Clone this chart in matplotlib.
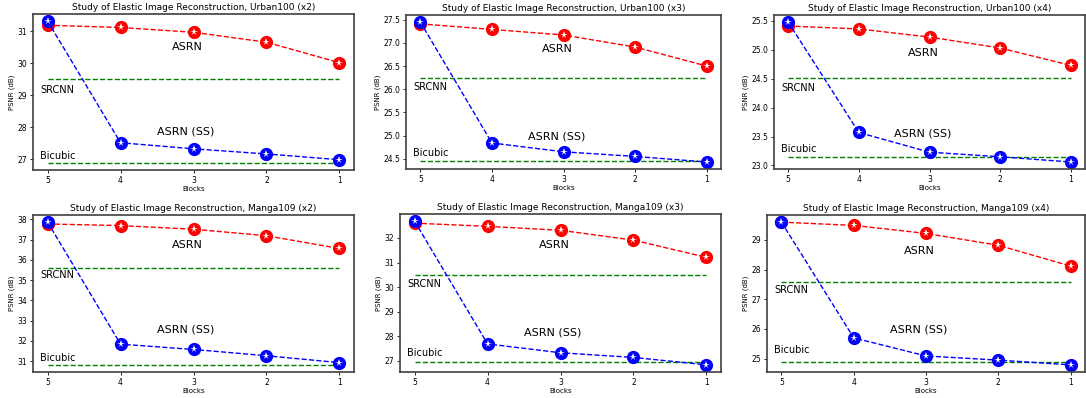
import matplotlib
matplotlib.use("Agg")
import matplotlib.pyplot as plt

blocks = [5, 4, 3, 2, 1]

titles = [
    "Study of Elastic Image Reconstruction, Urban100 (x2)",
    "Study of Elastic Image Reconstruction, Urban100 (x3)",
    "Study of Elastic Image Reconstruction, Urban100 (x4)",
    "Study of Elastic Image Reconstruction, Manga109 (x2)",
    "Study of Elastic Image Reconstruction, Manga109 (x3)",
    "Study of Elastic Image Reconstruction, Manga109 (x4)",
]

asrn = [
    [31.19, 31.12, 30.97, 30.66, 30.02],
    [27.41, 27.29, 27.17, 26.91, 26.50],
    [25.41, 25.36, 25.22, 25.03, 24.73],
    [37.77, 37.69, 37.51, 37.19, 36.56],
    [32.60, 32.47, 32.31, 31.91, 31.21],
    [29.60, 29.49, 29.22, 28.82, 28.12],
]

asrn_ss = [
    [31.32, 27.52, 27.33, 27.17, 26.99],
    [27.45, 24.84, 24.65, 24.55, 24.43],
    [25.48, 23.57, 23.23, 23.15, 23.06],
    [37.86, 31.84, 31.58, 31.27, 30.93],
    [32.68, 27.69, 27.33, 27.14, 26.84],
    [29.60, 25.70, 25.09, 24.95, 24.79],
]

srcnn = [29.50, 26.24, 24.52, 35.60, 30.48, 27.58]
bicubic = [26.89, 24.46, 23.14, 30.82, 26.96, 24.89]

# label y positions (baseline) per panel: ASRN, ASRN (SS), SRCNN, Bicubic
label_y = [
    [30.42, 27.79, 29.08, 27.02],
    [26.80, 24.91, 25.99, 24.56],
    [24.90, 23.50, 24.29, 23.24],
    [36.60, 32.40, 35.10, 31.00],
    [31.59, 28.02, 30.00, 27.18],
    [28.52, 25.89, 27.22, 25.19],
]

# axes boxes in pixels: left, right, top, bottom
W, H = 1086, 398
boxes = [
    (33, 354, 14, 170),
    (406, 721, 15, 169),
    (774, 1085, 15, 169),
    (33, 354, 215, 372),
    (400, 721, 214, 372),
    (767, 1085, 215, 372),
]

fig = plt.figure(figsize=(W / 100, H / 100), dpi=100)

for i in range(6):
    l, r, t, b = boxes[i]
    ax = fig.add_axes([l / W, 1 - b / H, (r - l) / W, (b - t) / H])

    ax.plot(blocks, [srcnn[i]] * 5, 'g--', lw=1.0)
    ax.plot(blocks, [bicubic[i]] * 5, 'g--', lw=1.0)
    for vals, c in ((asrn[i], 'red'), (asrn_ss[i], 'blue')):
        ax.plot(blocks, vals, '--', color=c, lw=1.0, marker='o', ms=9.5,
                mew=0, mfc=c)
        ax.plot(blocks, vals, ls='none', marker='*', ms=5.5, mew=0, mfc='white')

    ax.text(3.3, label_y[i][0], "ASRN", fontsize=8)
    ax.text(3.5, label_y[i][1], "ASRN (SS)", fontsize=8)
    ax.text(5.1, label_y[i][2], "SRCNN", fontsize=7)
    ax.text(5.1, label_y[i][3], "Bicubic", fontsize=7)

    ax.set_xlim(5.2, 0.8)
    ax.set_xticks(blocks)
    ax.set_title(titles[i], fontsize=6.5, pad=3)
    ax.set_xlabel("Blocks", fontsize=5, labelpad=1)
    ax.set_ylabel("PSNR (dB)", fontsize=5, labelpad=2)
    ax.tick_params(labelsize=5.5, length=2.5, width=0.6, pad=1.5)
    for s in ax.spines.values():
        s.set_color('0.25')
        s.set_linewidth(1.2)

plt.savefig("out.png", dpi=100)
